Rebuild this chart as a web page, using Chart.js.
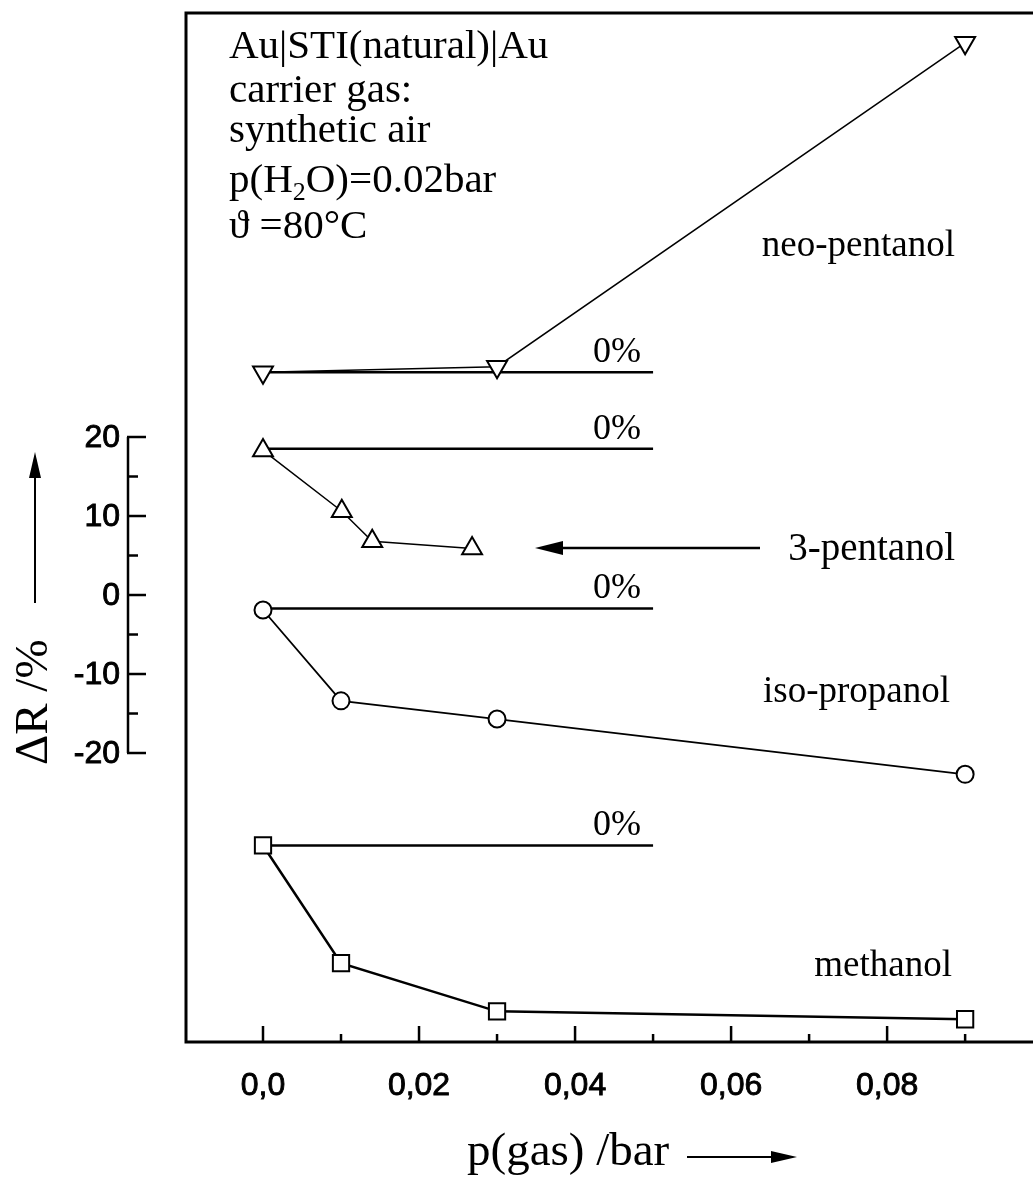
<!DOCTYPE html>
<html>
<head>
<meta charset="utf-8">
<script src="https://cdn.jsdelivr.net/npm/chart.js@4.4.1/dist/chart.umd.min.js"></script>
<style>
  html, body { margin: 0; padding: 0; background: #fff; overflow: hidden; }
  canvas { display: block; }
</style>
</head>
<body>
<canvas id="chart" width="1033" height="1187"></canvas>
<script>
// values; y is in the units of the ΔR scale bar (curves are offset)
const neoX = [0, 0.03, 0.09];
const neoY = [28.2, 28.9, 69.9];
const pentX = [0, 0.0101, 0.014, 0.0268];
const pentY = [18.3, 10.6, 6.8, 5.9];
const isoX = [0, 0.01, 0.03, 0.09];
const isoY = [-1.9, -13.4, -15.7, -22.7];
const methX = [0, 0.01, 0.03, 0.09];
const methY = [-31.7, -46.6, -52.7, -53.7];
const zeroX = [0, 0.05];
const zeroLevels = [28.2, 18.5, -1.7, -31.7];

const xTicks = [0, 0.02, 0.04, 0.06, 0.08];
const xTickLabels = ['0,0', '0,02', '0,04', '0,06', '0,08'];
const xMinorTicks = [0.01, 0.03, 0.05, 0.07, 0.09];
const yTicks = [20, 10, 0, -10, -20];
const yTickLabels = ['20', '10', '0', '-10', '-20'];
const yMinorTicks = [15, 5, -5, -15];

const SERIF = '"Liberation Serif", "Times New Roman", serif';
const SANS = '"Liberation Sans", Arial, sans-serif';

const pts = (xs, ys) => xs.map((x, i) => ({ x: x, y: ys[i] }));

const series = (xs, ys, style, rot, radius, width) => ({
    data: pts(xs, ys),
    borderColor: '#000',
    borderWidth: width,
    pointStyle: style,
    pointRotation: rot,
    pointRadius: radius,
    pointBorderWidth: 2,
    pointBackgroundColor: '#fff',
    pointBorderColor: '#000',
    tension: 0,
    clip: false,
    order: 0
});

const datasets = [
    series(neoX, neoY, 'triangle', 180, 11.5, 1.5),
    series(pentX, pentY, 'triangle', 0, 11.5, 1.5),
    series(isoX, isoY, 'circle', 0, 8.5, 1.8),
    series(methX, methY, 'rect', 0, 11.5, 2.5)
];

zeroLevels.forEach(level => {
    datasets.push({
        data: pts(zeroX, zeroX.map(() => level)),
        borderColor: '#000',
        borderWidth: 2.5,
        pointRadius: 0,
        clip: false,
        order: 1
    });
});

function arrow(ctx, x1, y1, x2, y2, len, half) {
    const a = Math.atan2(y2 - y1, x2 - x1);
    ctx.beginPath();
    ctx.moveTo(x1, y1);
    ctx.lineTo(x2 - Math.cos(a) * len * 0.8, y2 - Math.sin(a) * len * 0.8);
    ctx.stroke();
    ctx.beginPath();
    ctx.moveTo(x2, y2);
    ctx.lineTo(x2 - Math.cos(a) * len - Math.sin(a) * half, y2 - Math.sin(a) * len + Math.cos(a) * half);
    ctx.lineTo(x2 - Math.cos(a) * len + Math.sin(a) * half, y2 - Math.sin(a) * len - Math.cos(a) * half);
    ctx.closePath();
    ctx.fill();
}

// slightly heavier text, the scan makes the lettering look thick
function boldText(ctx, s, x, y) {
    ctx.fillText(s, x, y);
    ctx.strokeText(s, x, y);
}

// --- frame, axes and labels drawn from the chart's scales --- //
const decor = {
    id: 'decor',
    afterDraw(chart) {
        const ctx = chart.ctx;
        const a = chart.chartArea;
        const xs = chart.scales.x;
        const ys = chart.scales.y;
        ctx.save();
        ctx.strokeStyle = '#000';
        ctx.fillStyle = '#000';
        ctx.lineCap = 'butt';

        // frame (left, top, bottom); runs off the right edge as in the scan
        ctx.lineWidth = 3;
        ctx.beginPath();
        ctx.moveTo(chart.width, a.top);
        ctx.lineTo(a.left, a.top);
        ctx.lineTo(a.left, a.bottom);
        ctx.lineTo(chart.width, a.bottom);
        ctx.stroke();

        // x ticks pointing inward
        ctx.lineWidth = 2.5;
        xTicks.forEach(v => {
            const px = xs.getPixelForValue(v);
            ctx.beginPath(); ctx.moveTo(px, a.bottom); ctx.lineTo(px, a.bottom - 16); ctx.stroke();
        });
        xMinorTicks.forEach(v => {
            const px = xs.getPixelForValue(v);
            ctx.beginPath(); ctx.moveTo(px, a.bottom); ctx.lineTo(px, a.bottom - 8); ctx.stroke();
        });
        ctx.font = '32px ' + SANS;
        ctx.lineWidth = 0.9;
        ctx.textAlign = 'center';
        ctx.textBaseline = 'alphabetic';
        xTicks.forEach((v, i) => {
            boldText(ctx, xTickLabels[i], xs.getPixelForValue(v), a.bottom + 53);
        });

        // detached y scale bar
        const ax = 128;
        ctx.lineWidth = 2.5;
        ctx.beginPath();
        ctx.moveTo(ax, ys.getPixelForValue(20));
        ctx.lineTo(ax, ys.getPixelForValue(-20));
        ctx.stroke();
        yTicks.forEach(v => {
            const py = ys.getPixelForValue(v);
            ctx.beginPath(); ctx.moveTo(ax - 1, py); ctx.lineTo(ax + 18, py); ctx.stroke();
        });
        yMinorTicks.forEach(v => {
            const py = ys.getPixelForValue(v);
            ctx.beginPath(); ctx.moveTo(ax, py); ctx.lineTo(ax + 10, py); ctx.stroke();
        });
        ctx.lineWidth = 0.9;
        ctx.textAlign = 'right';
        ctx.textBaseline = 'middle';
        yTicks.forEach((v, i) => {
            boldText(ctx, yTickLabels[i], ax - 8, ys.getPixelForValue(v) + 1);
        });

        // info block
        ctx.font = '41px ' + SERIF;
        ctx.textAlign = 'left';
        ctx.textBaseline = 'alphabetic';
        const tx = 229;
        ctx.fillText('Au|STI(natural)|Au', tx, 58);
        ctx.fillText('carrier gas:', tx, 102);
        ctx.fillText('synthetic air', tx, 142);
        let cx = tx;
        ctx.fillText('p(H', cx, 192);
        cx += ctx.measureText('p(H').width;
        ctx.font = '26px ' + SERIF;
        ctx.fillText('2', cx, 200);
        cx += ctx.measureText('2').width;
        ctx.font = '41px ' + SERIF;
        ctx.fillText('O)=0.02bar', cx, 192);
        ctx.fillText('\u03D1 =80\u00B0C', tx, 238);

        // curve labels
        ctx.font = '37px ' + SERIF;
        ctx.textAlign = 'right';
        ctx.fillText('neo-pentanol', 955, 256);
        ctx.font = '39px ' + SERIF;
        ctx.fillText('3-pentanol', 955, 560);
        ctx.font = '37px ' + SERIF;
        ctx.fillText('iso-propanol', 950, 702);
        ctx.fillText('methanol', 952, 976);
        ctx.font = '36px ' + SERIF;
        const zx = xs.getPixelForValue(zeroX[1]) - 12;
        zeroLevels.forEach(level => {
            ctx.fillText('0%', zx, ys.getPixelForValue(level) - 10);
        });

        ctx.lineWidth = 2.5;
        arrow(ctx, 760, 548, 535, 548, 28, 7);

        // axis titles
        ctx.font = '47px ' + SERIF;
        ctx.textAlign = 'left';
        ctx.fillText('p(gas) /bar', 467, 1165);
        ctx.lineWidth = 2;
        arrow(ctx, 687, 1157, 797, 1157, 26, 6);

        ctx.save();
        ctx.translate(47, 765);
        ctx.rotate(-Math.PI / 2);
        ctx.fillText('\u0394R /%', 0, 0);
        ctx.restore();
        arrow(ctx, 35, 603, 35, 452, 26, 6);

        ctx.restore();
    }
};

new Chart(document.getElementById('chart'), {
    type: 'line',
    data: { datasets: datasets },
    options: {
        responsive: false,
        animation: false,
        layout: { autoPadding: false, padding: { left: 186, top: 13, right: 0, bottom: 145 } },
        plugins: { legend: { display: false }, tooltip: { enabled: false } },
        scales: {
            x: { type: 'linear', display: false, min: -0.00987, max: 0.0987 },
            y: { type: 'linear', display: false, min: -56.58, max: 73.67 }
        }
    },
    plugins: [decor]
});
</script>
</body>
</html>
